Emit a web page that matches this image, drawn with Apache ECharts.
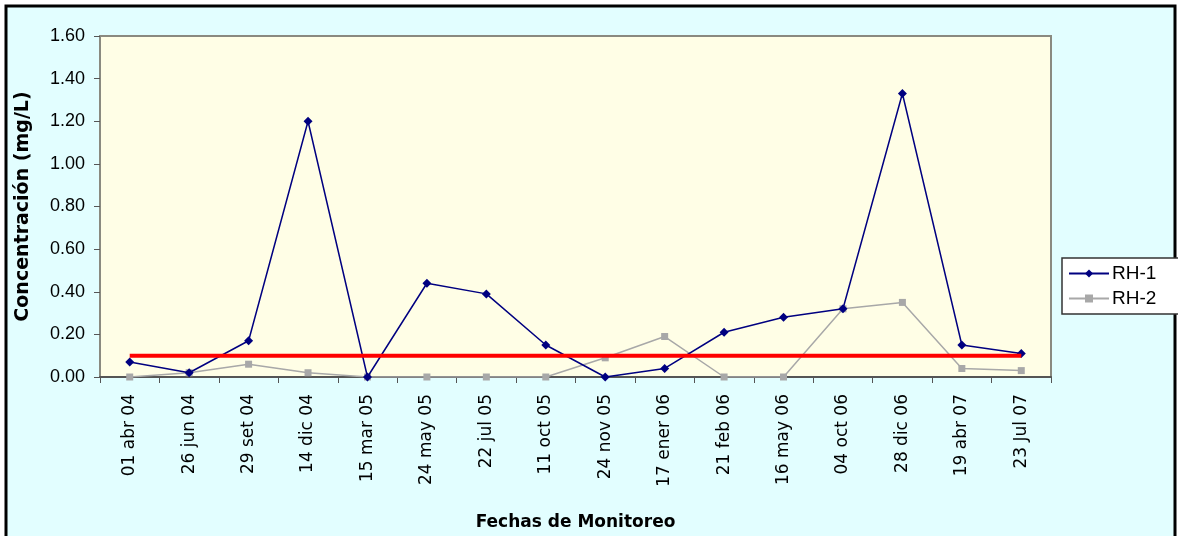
<!DOCTYPE html>
<html>
<head>
<meta charset="utf-8">
<script src="https://cdn.jsdelivr.net/npm/echarts@6/dist/echarts.min.js"></script>
<style>
html,body{margin:0;padding:0;background:#ffffff;}
#chart{width:1178px;height:536px;}
</style>
</head>
<body>
<div id="chart"></div>
<script>
const categories = ['01 abr 04','26 jun 04','29 set 04','14 dic 04','15 mar 05','24 may 05','22 jul 05','11 oct 05','24 nov 05','17 ener 06','21 feb 06','16 may 06','04 oct 06','28 dic 06','19 abr 07','23 Jul 07'];
const rh1 = [0.07,0.02,0.17,1.20,0.00,0.44,0.39,0.15,0.00,0.04,0.21,0.28,0.32,1.33,0.15,0.11];
const rh2 = [0.00,0.02,0.06,0.02,0.00,0.00,0.00,0.00,0.09,0.19,0.00,0.00,0.32,0.35,0.04,0.03];
const limite = [0.10,0.10,0.10,0.10,0.10,0.10,0.10,0.10,0.10,0.10,0.10,0.10,0.10,0.10,0.10,0.10];
const yTicks = ['0.00','0.20','0.40','0.60','0.80','1.00','1.20','1.40','1.60'];

const chart = echarts.init(document.getElementById('chart'), null, {renderer:'canvas'});
const FONT = '"Liberation Sans", Arial, sans-serif';
const WIDE = '"DejaVu Sans", "Liberation Sans", sans-serif';
chart.setOption({
  animation:false,
  backgroundColor:'#ffffff',
  textStyle:{fontFamily:FONT},
  graphic:[
    {type:'rect', z:-10, shape:{x:6,y:6,width:1169,height:545}, style:{fill:'#E2FEFF', stroke:'#000000', lineWidth:3}}
  ],
  grid:{left:100, top:36, right:127, bottom:158, show:true, backgroundColor:'#FFFEE6', borderColor:'#8a8a80', borderWidth:2},
  legend:{
    orient:'vertical', left:1062, top:258,
    data:['RH-1','RH-2'],
    backgroundColor:'#ffffff', borderColor:'#333333', borderWidth:1.5, borderRadius:0,
    padding:[6,30,6,6], itemGap:6, itemWidth:40, itemHeight:10,
    textStyle:{fontSize:19, color:'#000000', fontFamily:FONT, padding:[0,0,0,-2]}
  },
  xAxis:{
    type:'category', data:categories, boundaryGap:true,
    name:'Fechas de Monitoreo', nameLocation:'middle', nameGap:137,
    nameTextStyle:{fontSize:17, fontWeight:'bold', color:'#000', fontFamily:WIDE},
    axisLine:{lineStyle:{color:'#555555', width:2}},
    axisTick:{show:true, length:6, lineStyle:{color:'#555555'}},
    axisLabel:{rotate:90, fontSize:17, color:'#000', margin:17, fontFamily:WIDE}
  },
  yAxis:{
    type:'value', min:0, max:1.6, interval:0.2,
    name:'Concentración (mg/L)', nameLocation:'middle', nameGap:67,
    nameTextStyle:{fontSize:19, fontWeight:'bold', color:'#000', fontFamily:WIDE},
    axisLine:{show:true, lineStyle:{color:'#8a8a80', width:2}},
    axisTick:{show:true, length:6, lineStyle:{color:'#555555'}},
    splitLine:{show:false},
    axisLabel:{fontSize:18, color:'#000', margin:15, fontFamily:FONT, formatter:(v,i)=>yTicks[i]}
  },
  series:[
    {name:'RH-1', type:'line', data:rh1, symbol:'diamond', symbolSize:9,
     lineStyle:{color:'#000080', width:1.5}, itemStyle:{color:'#000080'}, z:3},
    {name:'RH-2', type:'line', data:rh2, symbol:'rect', symbolSize:7,
     lineStyle:{color:'#a8a8a8', width:1.5}, itemStyle:{color:'#a8a8a8'}, z:2},
    {name:'Límite', type:'line', data:limite, symbol:'none',
     lineStyle:{color:'#ff0000', width:4}, z:4}
  ]
});
</script>
</body>
</html>
